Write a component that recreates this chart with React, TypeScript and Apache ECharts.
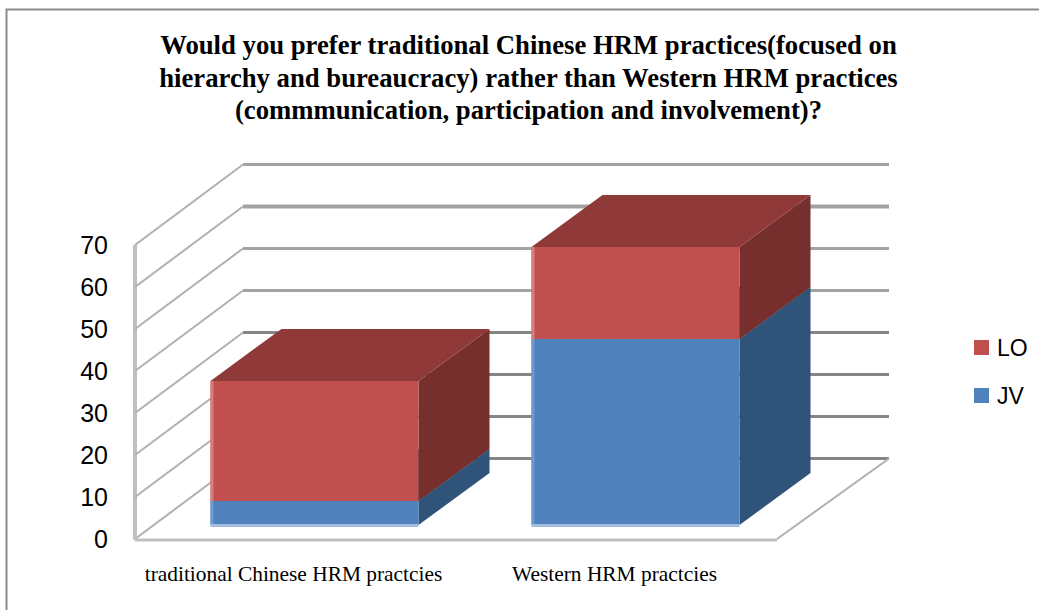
import React, { useEffect, useRef } from "react";
import * as echarts from "echarts";

const titleLines = [
  "Would you prefer traditional Chinese HRM practices(focused on",
  "hierarchy and bureaucracy) rather than Western HRM practices",
  "(commmunication, participation and involvement)?",
];
const categories = ["traditional Chinese HRM practcies", "Western HRM practcies"];
const jvValues = [5.7, 44.3];
const loValues = [28.6, 21.9];
const tickValues = [0, 10, 20, 30, 40, 50, 60, 70];

const SHIFT_X = 19, SHIFT_Y = -14, BAR_RATIO = 0.648, BAR_DX = 71, BAR_DY = -52;
const WALL_DY = -80.5, WALL_LEFT_X = 243, WALL_RIGHT_X = 889, FLOOR_RIGHT_X = 777;

const poly = (points: number[][], fill: string) => ({
  type: "polygon", shape: { points }, style: { fill, stroke: null },
});

function barRenderer(front: string, side: string, top: string, edge: string, bottomEdge: string, isBase: boolean) {
  return (_p: any, api: any) => {
    const cat = api.value(0), v0 = api.value(1), v1 = api.value(2);
    const c0 = api.coord([cat, v0]), c1 = api.coord([cat, v1]);
    const w = api.size([1, 0])[0] * BAR_RATIO;
    const xl = c0[0] - w / 2 + SHIFT_X, xr = xl + w;
    const yb = c0[1] + SHIFT_Y, yt = c1[1] + SHIFT_Y;
    const children: any[] = [
      poly([[xr, yb], [xr + BAR_DX, yb + BAR_DY], [xr + BAR_DX, yt + BAR_DY], [xr, yt]], side),
      poly([[xl, yt], [xr, yt], [xr + BAR_DX, yt + BAR_DY], [xl + BAR_DX, yt + BAR_DY]], top),
      { type: "rect", shape: { x: xl, y: yt, width: w, height: yb - yt }, style: { fill: front } },
      { type: "rect", shape: { x: xl, y: yt, width: 3, height: yb - yt }, style: { fill: edge } },
    ];
    if (isBase) {
      children.push({ type: "rect", shape: { x: xl, y: yb - 1, width: w, height: 3 }, style: { fill: bottomEdge } });
    }
    return { type: "group", children };
  };
}

function wallRenderer(params: any, api: any) {
  const v = api.value(0);
  const y = api.coord([0, v])[1];
  const x0 = params.coordSys.x;
  const yBack = y + WALL_DY;
  const color = v >= 40 ? "#a2a2a2" : "#858585";
  const children: any[] = [
    { type: "line", shape: { x1: WALL_LEFT_X, y1: yBack, x2: WALL_RIGHT_X, y2: yBack }, style: { stroke: color, lineWidth: v === 60 ? 4 : 3 } },
    { type: "line", shape: { x1: x0, y1: y, x2: WALL_LEFT_X, y2: yBack }, style: { stroke: "#b0b0b0", lineWidth: 2 } },
  ];
  if (v === 0) {
    const top = api.coord([0, 70])[1];
    children.push(
      { type: "line", shape: { x1: FLOOR_RIGHT_X, y1: y, x2: WALL_RIGHT_X, y2: yBack }, style: { stroke: "#b0b0b0", lineWidth: 2 } },
      { type: "line", shape: { x1: x0, y1: y + 1, x2: FLOOR_RIGHT_X, y2: y + 1 }, style: { stroke: "#bfbfbf", lineWidth: 3 } },
      { type: "line", shape: { x1: x0, y1: top, x2: x0, y2: y + 1 }, style: { stroke: "#bfbfbf", lineWidth: 4 } },
    );
  }
  return { type: "group", children };
}

export default function App() {
  const ref = useRef<HTMLDivElement>(null);
  useEffect(() => {
    const chart = echarts.init(ref.current!, undefined, { renderer: "svg" });
    chart.setOption({
      animation: false,
      backgroundColor: "#ffffff",
      title: {
        text: titleLines.join("\n"),
        left: 523.5, top: 24, textAlign: "center",
        textStyle: { fontFamily: "Liberation Serif", fontWeight: "bold", fontSize: 26.7, lineHeight: 32.5, color: "#000" },
      },
      graphic: [{
        type: "polyline", silent: true,
        shape: { points: [[6.5, 610], [6.5, 9.5], [1039, 9.5]] },
        style: { stroke: "#8c8c8c", lineWidth: 2, fill: null },
      }],
      legend: {
        data: ["LO", "JV"], orient: "vertical", left: 969, top: 331,
        itemWidth: 15, itemHeight: 15, itemGap: 25, icon: "rect",
        textStyle: { fontFamily: "Liberation Sans", fontSize: 23, color: "#000", padding: [0, 0, 0, 3] },
      },
      grid: { left: 135, top: 245, width: 642, height: 294 },
      xAxis: {
        type: "category", data: categories,
        axisLine: { show: false }, axisTick: { show: false },
        axisLabel: { fontFamily: "Liberation Serif", fontSize: 21.4, color: "#000", margin: 24, padding: [0, 4, 0, 0], interval: 0 },
      },
      yAxis: {
        type: "value", min: 0, max: 70, interval: 10,
        axisLine: { show: false }, axisTick: { show: false }, splitLine: { show: false },
        axisLabel: { fontFamily: "Liberation Sans", fontSize: 25, color: "#000", margin: 27 },
      },
      series: [
        {
          type: "custom", name: "walls", coordinateSystem: "cartesian2d", silent: true,
          data: tickValues.map((v) => [v]), encode: { y: 0 }, renderItem: wallRenderer, z: 1,
        },
        {
          type: "custom", name: "JV", coordinateSystem: "cartesian2d", z: 2,
          itemStyle: { color: "#4f81bd" },
          data: jvValues.map((v, i) => [i, 0, v]), encode: { x: 0, y: [1, 2] },
          renderItem: barRenderer("#4f81bd", "#305379", "#305379", "#6f9ad0", "#a3bcdf", true),
        },
        {
          type: "custom", name: "LO", coordinateSystem: "cartesian2d", z: 3,
          itemStyle: { color: "#c0504d" },
          data: loValues.map((v, i) => [i, jvValues[i], jvValues[i] + v]), encode: { x: 0, y: [1, 2] },
          renderItem: barRenderer("#c0504d", "#772f2e", "#8f3a38", "#d67f7c", "#c0504d", false),
        },
      ],
    });
    return () => chart.dispose();
  }, []);
  return <div ref={ref} style={{ position: "absolute", left: 0, top: 0, width: 1039, height: 610 }} />;
}
